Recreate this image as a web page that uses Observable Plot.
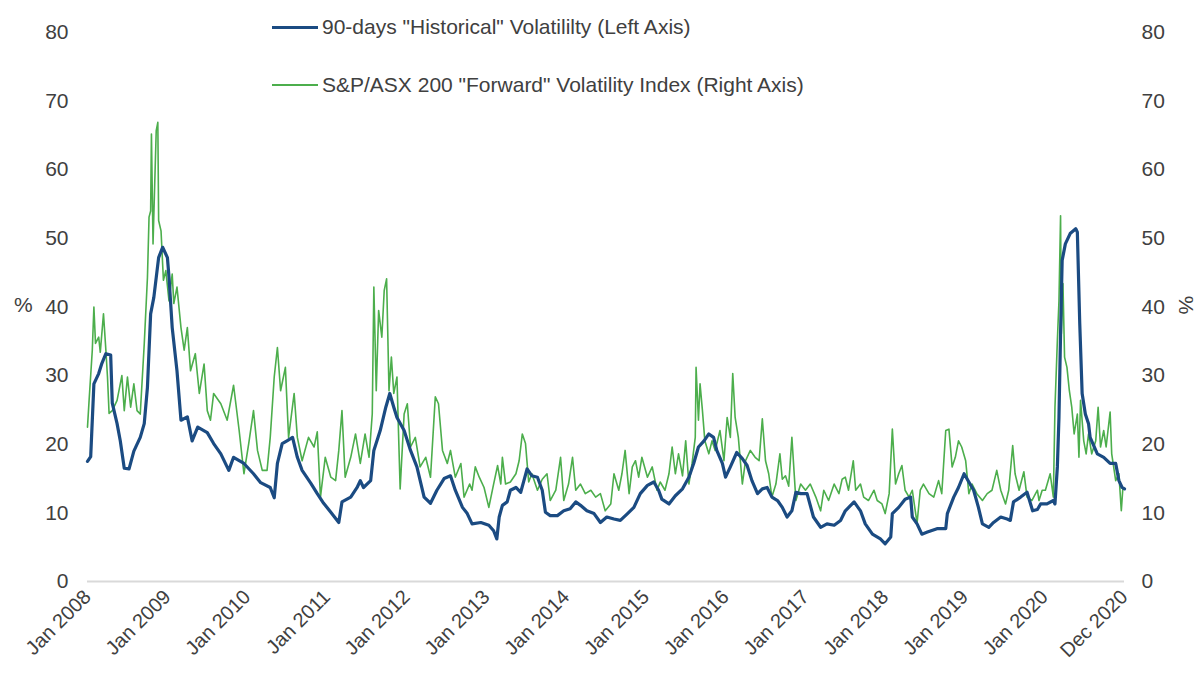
<!DOCTYPE html>
<html>
<head>
<meta charset="utf-8">
<script src="https://cdn.jsdelivr.net/npm/d3@7"></script>
<script src="https://cdn.jsdelivr.net/npm/@observablehq/plot@0.6"></script>
<style>
  html, body { margin: 0; padding: 0; background: #fff; }
  #wrap { position: relative; width: 1196px; height: 675px; font-family: "Liberation Sans", Arial, sans-serif; color: #404040; }
  .leg { position: absolute; display: flex; align-items: center; font-size: 21px; white-space: nowrap; line-height: 24px; }
  .sw { display: inline-block; width: 46px; margin-right: 4px; }
  .pct { position: absolute; font-size: 21px; line-height: 24px; }
</style>
</head>
<body>
<div id="wrap">
  <div id="chart"></div>
  <div class="leg" style="left:272px; top:14px; height:26px;"><span class="sw" style="border-top:3px solid #1b4b82;"></span>90-days "Historical" Volatililty (Left Axis)</div>
  <div class="leg" style="left:272px; top:72px; height:26px;"><span class="sw" style="border-top:2px solid #4cae4c;"></span>S&amp;P/ASX 200 "Forward" Volatility Index (Right Axis)</div>
  <div class="pct" style="left:14px; top:293px;">%</div>
  <div class="pct" style="left:1177px; top:293px; transform: rotate(90deg); transform-origin: center;">%</div>
</div>
<script>
// ---- Data (time as decimal years, values in %) ----
const histT = [2008.00,2008.04,2008.08,2008.14,2008.18,2008.23,2008.29,2008.31,2008.37,2008.41,2008.46,2008.52,2008.58,2008.66,2008.71,2008.75,2008.79,2008.83,2008.89,2008.94,2009.00,2009.02,2009.06,2009.12,2009.17,2009.25,2009.31,2009.38,2009.50,2009.58,2009.67,2009.77,2009.83,2009.96,2010.08,2010.17,2010.29,2010.34,2010.38,2010.44,2010.50,2010.57,2010.63,2010.69,2010.80,2010.88,2010.96,2011.05,2011.15,2011.19,2011.30,2011.38,2011.42,2011.46,2011.55,2011.59,2011.67,2011.74,2011.79,2011.84,2011.88,2011.97,2012.05,2012.13,2012.22,2012.30,2012.38,2012.47,2012.55,2012.61,2012.70,2012.76,2012.82,2012.93,2013.03,2013.09,2013.13,2013.16,2013.20,2013.26,2013.30,2013.37,2013.43,2013.47,2013.51,2013.57,2013.64,2013.70,2013.74,2013.80,2013.89,2013.97,2014.05,2014.12,2014.18,2014.26,2014.35,2014.43,2014.51,2014.60,2014.68,2014.77,2014.85,2014.93,2015.02,2015.10,2015.16,2015.20,2015.29,2015.37,2015.46,2015.54,2015.60,2015.66,2015.73,2015.79,2015.85,2015.89,2015.96,2016.00,2016.06,2016.14,2016.21,2016.27,2016.33,2016.40,2016.46,2016.52,2016.58,2016.65,2016.71,2016.77,2016.83,2016.88,2016.94,2017.02,2017.10,2017.19,2017.27,2017.36,2017.44,2017.50,2017.61,2017.69,2017.75,2017.84,2017.94,2018.00,2018.07,2018.09,2018.17,2018.25,2018.32,2018.34,2018.40,2018.46,2018.53,2018.65,2018.76,2018.78,2018.86,2018.92,2018.99,2019.05,2019.11,2019.17,2019.22,2019.30,2019.36,2019.45,2019.53,2019.57,2019.61,2019.70,2019.78,2019.85,2019.91,2019.95,2020.03,2020.11,2020.13,2020.16,2020.18,2020.20,2020.22,2020.26,2020.32,2020.39,2020.41,2020.44,2020.47,2020.51,2020.55,2020.57,2020.66,2020.74,2020.82,2020.89,2020.93,2020.97,2021.00];
const histV = [17.5,18.2,28.8,30.3,31.8,33.2,33.0,26.0,23.0,20.5,16.5,16.4,19.0,21.0,23.0,28.3,39.0,41.4,47.2,48.7,47.2,44.3,37.0,30.7,23.5,24.0,20.5,22.5,21.7,20.1,18.6,16.2,18.1,17.2,15.7,14.4,13.7,12.2,17.2,20.1,20.5,21.0,18.1,16.2,14.3,12.8,11.4,10.1,8.6,11.6,12.3,13.7,14.7,13.7,14.7,19.1,22.0,25.4,27.4,25.4,23.9,22.0,19.1,16.7,12.3,11.4,13.3,15.0,15.4,13.3,10.8,9.9,8.4,8.6,8.2,7.4,6.2,9.4,11.1,11.6,13.3,13.7,13.0,14.7,16.4,15.4,15.2,13.3,10.1,9.6,9.6,10.3,10.6,11.6,11.1,10.3,9.9,8.6,9.4,9.1,8.9,9.9,10.8,12.8,14.0,14.5,13.3,12.0,11.3,12.5,13.5,15.2,17.2,19.6,20.5,21.5,21.0,19.1,17.2,15.2,16.7,18.8,17.9,16.9,14.7,12.8,13.5,13.7,12.3,11.8,10.8,9.4,10.3,13.0,12.8,12.8,9.4,7.9,8.4,8.2,8.9,10.3,11.6,10.3,8.4,6.9,6.2,5.5,6.5,9.9,10.8,12.0,12.3,9.4,8.4,6.9,7.2,7.7,7.7,9.9,12.3,13.7,15.7,14.5,13.3,10.8,8.4,7.9,8.6,9.4,9.1,8.9,11.6,12.3,13.0,10.3,10.5,11.3,11.3,11.8,11.3,16.7,23.9,36.1,46.8,49.2,50.7,51.4,50.9,37.6,27.4,24.4,23.0,21.0,18.6,18.1,17.2,17.2,14.7,13.7,13.5];

const fwdT = [2008.00,2008.02,2008.06,2008.08,2008.10,2008.14,2008.16,2008.20,2008.23,2008.25,2008.27,2008.31,2008.37,2008.43,2008.46,2008.50,2008.54,2008.58,2008.62,2008.66,2008.71,2008.75,2008.77,2008.79,2008.80,2008.82,2008.84,2008.86,2008.88,2008.89,2008.92,2008.95,2008.98,2009.02,2009.06,2009.08,2009.12,2009.17,2009.21,2009.25,2009.29,2009.35,2009.40,2009.46,2009.50,2009.54,2009.58,2009.67,2009.75,2009.83,2009.90,2009.96,2010.02,2010.08,2010.13,2010.19,2010.25,2010.29,2010.34,2010.38,2010.42,2010.48,2010.52,2010.59,2010.63,2010.69,2010.77,2010.84,2010.88,2010.92,2010.98,2011.05,2011.11,2011.15,2011.19,2011.23,2011.30,2011.36,2011.42,2011.48,2011.53,2011.57,2011.59,2011.62,2011.65,2011.69,2011.72,2011.75,2011.78,2011.81,2011.84,2011.88,2011.90,2011.92,2011.97,2012.01,2012.05,2012.11,2012.17,2012.24,2012.30,2012.36,2012.40,2012.45,2012.51,2012.55,2012.61,2012.68,2012.72,2012.79,2012.82,2012.86,2012.91,2012.97,2013.03,2013.09,2013.14,2013.18,2013.20,2013.24,2013.30,2013.37,2013.41,2013.45,2013.49,2013.53,2013.57,2013.64,2013.70,2013.76,2013.80,2013.87,2013.93,2013.97,2014.03,2014.08,2014.12,2014.18,2014.24,2014.31,2014.37,2014.43,2014.49,2014.56,2014.60,2014.66,2014.70,2014.74,2014.79,2014.83,2014.87,2014.91,2014.95,2015.02,2015.08,2015.14,2015.18,2015.24,2015.29,2015.33,2015.37,2015.41,2015.46,2015.50,2015.54,2015.58,2015.62,2015.63,2015.66,2015.68,2015.71,2015.74,2015.79,2015.83,2015.87,2015.93,2015.98,2016.02,2016.06,2016.09,2016.12,2016.16,2016.21,2016.25,2016.31,2016.37,2016.42,2016.46,2016.50,2016.54,2016.58,2016.63,2016.68,2016.71,2016.75,2016.79,2016.83,2016.88,2016.94,2017.00,2017.06,2017.13,2017.19,2017.23,2017.29,2017.36,2017.42,2017.46,2017.50,2017.54,2017.60,2017.63,2017.69,2017.73,2017.79,2017.86,2017.90,2017.96,2018.00,2018.05,2018.09,2018.13,2018.17,2018.21,2018.25,2018.30,2018.34,2018.40,2018.44,2018.48,2018.55,2018.61,2018.67,2018.71,2018.76,2018.80,2018.84,2018.88,2018.92,2018.96,2019.01,2019.05,2019.09,2019.15,2019.22,2019.28,2019.34,2019.40,2019.45,2019.51,2019.55,2019.60,2019.63,2019.68,2019.74,2019.78,2019.84,2019.91,2019.93,2019.97,2020.01,2020.07,2020.11,2020.13,2020.16,2020.18,2020.20,2020.21,2020.23,2020.25,2020.28,2020.31,2020.34,2020.37,2020.41,2020.43,2020.45,2020.49,2020.52,2020.55,2020.59,2020.64,2020.67,2020.70,2020.74,2020.77,2020.82,2020.84,2020.89,2020.93,2020.96,2020.98];
const fwdV = [22.5,26.4,33.7,40.0,34.7,35.6,33.4,39.0,33.7,29.8,24.5,24.9,26.4,30.0,24.9,29.8,25.4,28.8,24.9,24.4,34.6,44.3,53.1,54.0,65.2,49.2,57.5,65.7,66.9,52.6,51.1,43.9,45.3,40.9,44.8,40.5,42.9,37.0,33.7,37.0,30.7,33.2,27.4,31.7,24.9,23.5,27.4,25.9,23.5,28.6,22.0,15.7,20.1,24.9,19.1,16.2,16.2,21.0,29.8,34.1,27.8,31.2,21.0,27.4,21.0,17.6,21.0,19.6,21.8,12.3,18.1,15.2,14.7,19.1,24.9,15.2,18.1,21.5,17.2,21.5,18.1,24.4,42.9,27.8,39.5,35.6,42.4,44.1,27.8,32.7,27.4,29.8,21.5,13.5,24.4,25.9,19.6,21.0,16.7,18.1,15.2,26.9,25.9,19.1,17.2,19.1,15.2,17.2,12.3,14.2,13.3,16.7,15.2,13.7,10.8,14.2,16.9,14.2,18.1,14.2,14.5,15.7,17.6,21.5,20.1,14.5,15.7,13.3,14.9,15.7,11.8,13.3,18.1,11.8,14.2,18.1,13.3,14.2,12.8,13.3,12.3,12.8,10.3,11.3,15.7,13.3,15.7,19.1,12.8,16.7,17.6,15.2,18.1,15.2,16.7,13.3,14.5,13.3,15.7,19.6,15.7,18.6,15.4,20.5,14.2,17.2,21.0,31.2,23.5,28.8,24.9,20.5,18.6,20.5,19.1,22.0,17.6,23.9,21.0,30.3,23.9,21.0,14.2,17.6,19.1,18.1,17.6,23.7,17.6,15.7,12.3,14.2,18.6,14.9,15.4,13.9,21.0,11.8,14.2,13.3,14.2,12.3,10.3,13.3,11.8,14.2,12.8,14.9,15.2,13.3,17.6,13.3,14.2,12.3,11.8,13.3,11.8,11.3,9.9,12.8,22.2,14.2,15.7,16.9,13.3,12.3,13.3,8.5,13.3,14.2,12.8,12.3,14.7,12.8,22.0,22.2,16.7,18.1,20.5,19.6,17.6,12.8,14.2,12.8,11.8,12.8,13.3,16.2,13.3,11.3,13.3,19.8,15.7,13.3,16.0,12.3,11.8,13.3,11.8,13.3,13.3,15.7,12.3,25.4,35.1,40.9,53.3,36.1,43.4,32.7,31.2,27.8,25.4,21.5,24.4,18.1,26.4,20.5,18.6,21.5,18.6,20.5,25.4,19.6,22.0,19.6,24.7,18.6,14.7,15.7,10.3,13.7];

const yTicks = [0, 10, 20, 30, 40, 50, 60, 70, 80];
const xTickDates = ["2008-01-01","2009-01-01","2010-01-01","2011-01-01","2012-01-01","2013-01-01","2014-01-01","2015-01-01","2016-01-01","2017-01-01","2018-01-01","2019-01-01","2020-01-01","2020-12-31"];
const xTickLabels = ["Jan 2008","Jan 2009","Jan 2010","Jan 2011","Jan 2012","Jan 2013","Jan 2014","Jan 2015","Jan 2016","Jan 2017","Jan 2018","Jan 2019","Jan 2020","Dec 2020"];

// ---- helpers ----
function toDate(t) {
  const y = Math.floor(t);
  const s = Date.UTC(y, 0, 1), e = Date.UTC(y + 1, 0, 1);
  return new Date(s + (t - y) * (e - s));
}
const hist = histT.map((t, i) => ({date: toDate(t), value: histV[i]}));
const fwd = fwdT.map((t, i) => ({date: toDate(t), value: fwdV[i]}));
const tickDates = xTickDates.map(s => new Date(s + "T00:00:00Z"));

const chart = Plot.plot({
  width: 1196,
  height: 675,
  marginLeft: 87,
  marginRight: 72,
  marginTop: 32,
  marginBottom: 94,
  style: {fontFamily: '"Liberation Sans", Arial, sans-serif', fontSize: "21px", color: "#404040", background: "#fff"},
  x: {type: "utc", domain: [new Date("2008-01-01T00:00:00Z"), new Date("2021-01-01T00:00:00Z")]},
  y: {domain: [0, 80]},
  marks: [
    Plot.ruleY([0], {stroke: "#d9d9d9", strokeWidth: 2}),
    Plot.axisY({anchor: "left", ticks: yTicks, tickSize: 0, tickPadding: 19, label: null, fontSize: 21}),
    Plot.axisY({anchor: "right", ticks: yTicks, tickSize: 0, tickPadding: 17, label: null, fontSize: 21}),
    Plot.axisX({ticks: tickDates, tickSize: 0, tickPadding: 12, tickRotate: -45, label: null, fontSize: 20,
      tickFormat: d => xTickLabels[tickDates.findIndex(t => +t === +d)]}),
    Plot.line(fwd, {x: "date", y: "value", stroke: "#4cae4c", strokeWidth: 1.6}),
    Plot.line(hist, {x: "date", y: "value", stroke: "#1b4b82", strokeWidth: 3.2, strokeLinejoin: "round"})
  ]
});
document.getElementById("chart").appendChild(chart);
</script>
</body>
</html>
